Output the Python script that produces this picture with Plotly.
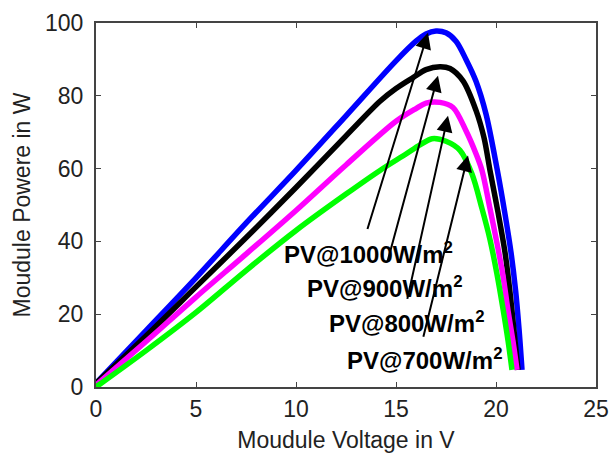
import plotly.graph_objects as go

# ---- data ----
v_1000 = [0, 2.5, 5, 7.5, 10, 12.5, 15, 16, 16.5, 17, 17.5, 18, 18.5, 19.0, 19.5, 20.05, 20.45, 20.75, 20.98, 21.15, 21.3]
p_1000 = [1, 15.5, 30, 45, 59.5, 74.5, 89.6, 95, 97, 97.8, 97.3, 95, 90, 84, 75, 60, 47.5, 37, 26.5, 16, 4.7]

v_900 = [0, 2.5, 5, 7.5, 10, 12.5, 14.2, 15, 15.85, 16.5, 17.2, 17.7, 18.35, 19.0, 19.4, 19.7, 20.1, 20.45, 20.7, 20.9, 21.1]
p_900 = [1, 14, 27.5, 41, 54.8, 69, 78.5, 82, 85, 87.2, 88, 87.5, 84.1, 76, 68.5, 59.5, 48, 37, 26, 15.5, 4.7]

v_800 = [0, 2.5, 5, 7.5, 10, 12.5, 15, 16, 16.5, 17.2, 17.85, 18.5, 19.0, 19.3, 19.7, 20.05, 20.35, 20.6, 20.85, 21.05]
p_800 = [0.5, 12.5, 24.7, 36.5, 48.5, 61, 73, 76.5, 78, 78.2, 76.8, 70.4, 64.1, 59.5, 49, 39.5, 30.5, 21, 12.5, 4.7]

v_700 = [0, 2.5, 5, 7.5, 10, 12.5, 14.2, 15.5, 16.2, 16.8, 17.5, 18.2, 18.8, 19.3, 19.7, 20.05, 20.35, 20.6, 20.8]
p_700 = [0, 10, 20.5, 32, 43, 53, 59.5, 64, 66.5, 68.2, 67.5, 65, 58.5, 49, 40.5, 31, 21.5, 12.8, 4.7]

labels = ["PV@1000W/m<sup>2</sup>", "PV@900W/m<sup>2</sup>", "PV@800W/m<sup>2</sup>", "PV@700W/m<sup>2</sup>"]
label_x = [9.3, 10.45, 11.55, 12.45]
label_y = [36.7, 27.6, 17.9, 7.7]

arrow_tail_x = [13.55, 14.55, 15.55, 16.35]
arrow_tail_y = [43.0, 34.0, 23.8, 13.4]
arrow_head_x = [16.6, 17.1, 17.6, 18.6]
arrow_head_y = [97.3, 85.5, 74.5, 63.6]

x_ticks = [0, 5, 10, 15, 20, 25]
y_ticks = [0, 20, 40, 60, 80, 100]

series = [
    (v_1000, p_1000, "#0000FF"),
    (v_900, p_900, "#000000"),
    (v_800, p_800, "#FF00FF"),
    (v_700, p_700, "#00FF00"),
]

FONT = "Liberation Sans, Arial, sans-serif"

fig = go.Figure()
for vx, py, col in series:
    fig.add_trace(go.Scatter(x=vx, y=py, mode="lines",
                             line=dict(color=col, width=5.5, shape="spline", smoothing=0.9),
                             showlegend=False, hoverinfo="skip"))

annotations = []
for tx, ty, hx, hy in zip(arrow_tail_x, arrow_tail_y, arrow_head_x, arrow_head_y):
    annotations.append(dict(x=hx, y=hy, ax=tx, ay=ty, xref="x", yref="y", axref="x", ayref="y",
                            text="", showarrow=True, arrowhead=2, arrowsize=1.6, arrowwidth=2,
                            arrowcolor="black", standoff=0, startstandoff=0))
for lx, ly, txt in zip(label_x, label_y, labels):
    annotations.append(dict(x=lx, y=ly, xref="x", yref="y", text="<b>" + txt + "</b>",
                            showarrow=False, xanchor="left", yanchor="middle",
                            font=dict(family=FONT, size=24, color="black")))

axis_common = dict(showgrid=False, zeroline=False, showline=True, linecolor="#444444", linewidth=2,
                   mirror="ticks", ticks="inside", ticklen=5, tickwidth=1.2, tickcolor="#444444",
                   ticklabeloverflow="allow",
                   tickfont=dict(family=FONT, size=23, color="#222222"))

fig.update_layout(
    width=609, height=453,
    margin=dict(l=96, r=13, t=23, b=66),
    paper_bgcolor="white", plot_bgcolor="white",
    xaxis=dict(range=[0, 25], tickvals=x_ticks, automargin=False,
               title=dict(text="Moudule Voltage in V", standoff=14,
                          font=dict(family=FONT, size=23, color="#222222")),
               **axis_common),
    yaxis=dict(range=[0, 100], tickvals=y_ticks, automargin=False, ticklabelstandoff=6,
               title=dict(text="Moudule Powere in W", standoff=8,
                          font=dict(family=FONT, size=23, color="#222222")),
               **axis_common),
    annotations=annotations,
)

# remove the default page margin so the 609x453 figure fills the window exactly
fig.write_html("out.html",
               config={"displayModeBar": False},
               post_script="document.body.style.margin='0';document.body.style.overflow='hidden';")
